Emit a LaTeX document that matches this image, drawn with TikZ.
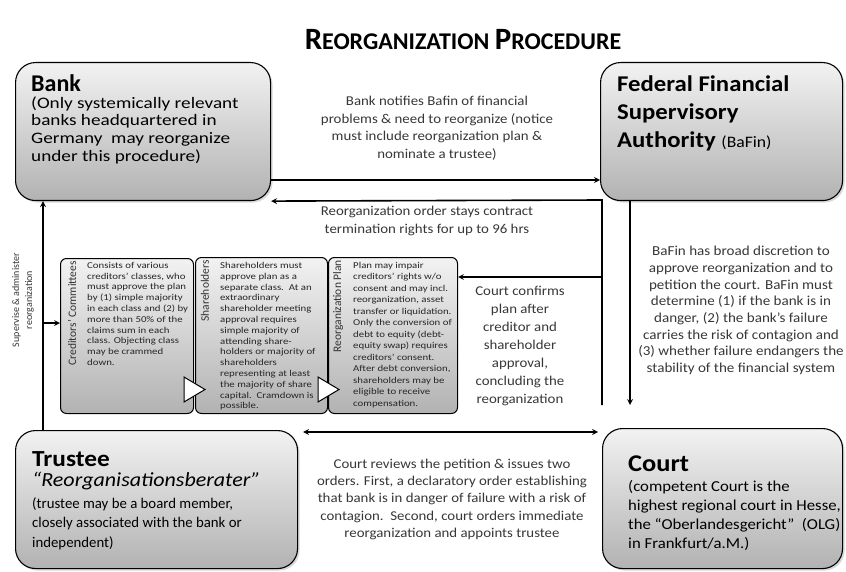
\documentclass[tikz,border=0pt]{standalone}
\usepackage{fontspec}
\setmainfont{Carlito}
\newfontfamily\cfwide{Carlito}[FakeStretch=1.1,Ligatures=TeX]
\newfontfamily\cfwider{Carlito}[FakeStretch=1.2,Ligatures=TeX]
\usetikzlibrary{shadows}
\definecolor{boxtop}{RGB}{242,242,242}
\definecolor{boxbot}{RGB}{178,178,178}
\definecolor{labgray}{RGB}{55,55,55}
\begin{document}
\begin{tikzpicture}[x=1pt,y=-1pt,>=stealth,
	bigbox/.style={draw,line width=1.1pt,rounded corners=20pt,top color=boxtop,bottom color=boxbot,
		drop shadow={opacity=0.3,shadow xshift=2pt,shadow yshift=-2pt},inner sep=0pt,anchor=north west},
	smallbox/.style={draw,line width=1pt,rounded corners=6pt,top color=boxtop,bottom color=boxbot,
		inner sep=0pt,anchor=north west},
	boxtext/.style={anchor=north west,align=left,inner sep=0pt},
	sidetext/.style={anchor=north,align=center,inner sep=0pt,text=labgray,font=\cfwide\fontsize{13.5}{17.5}\selectfont},
	striptitle/.style={rotate=90,anchor=east,inner sep=0pt,text=black!80,font=\fontsize{11.5}{13}\selectfont},
	smalltext/.style={anchor=north west,align=left,inner sep=0pt,text=black!85,font=\cfwider\fontsize{9}{10.8}\selectfont},
	conn/.style={->,line width=1.6pt},
	tri/.style={draw,line width=1pt,fill=white,line join=miter}]
	\useasboundingbox (0,0) rectangle (846,572);
	%Tieu de
	\node[inner sep=0pt,font=\bfseries] (title) at (463,40)
		{\fontsize{31}{34}\selectfont R\fontsize{24}{27}\selectfont EORGANIZATION
		 \fontsize{31}{34}\selectfont P\fontsize{24}{27}\selectfont ROCEDURE};
	%Khung Bank
	\node[bigbox,minimum width=255pt,minimum height=138pt] (bank) at (15,62) {};
	\node[boxtext,font=\cfwider\fontsize{16}{17.7}\selectfont] (banktxt) at (31,74)
		{{\setmainfont{Carlito}\fontsize{24}{24}\selectfont\bfseries Bank}\\[-0.5pt]
		 (Only systemically relevant\\
		 banks headquartered in\\
		 Germany\ \ may reorganize\\
		 under this procedure)};
	%Khung BaFin
	\node[bigbox,minimum width=242pt,minimum height=138pt] (bafin) at (600,62) {};
	\node[boxtext,font=\cfwide\fontsize{22.5}{28}\selectfont\bfseries] (bafintxt) at (617,76)
		{Federal Financial\\
		 Supervisory\\
		 Authority {\mdseries\fontsize{16}{17}\selectfont (BaFin)}};
	%Khung Trustee
	\node[bigbox,minimum width=282pt,minimum height=138pt] (trustee) at (15,430) {};
	\node[boxtext,font=\fontsize{14.8}{19.5}\selectfont] (trusteetxt) at (32,451)
		{{\cfwide\fontsize{23}{23}\selectfont\bfseries Trustee}\\[0.5pt]
		 {\cfwide\fontsize{20}{20}\selectfont\itshape ``Reorganisationsberater''}\\[2.5pt]
		 (trustee may be a board member,\\
		 closely associated with the bank or\\
		 independent)};
	%Khung Court
	\node[bigbox,minimum width=240pt,minimum height=140pt] (court) at (602,428) {};
	\node[boxtext,font=\cfwide\fontsize{15.2}{19}\selectfont] (courttxt) at (628,456)
		{{\fontsize{24}{24}\selectfont\bfseries Court}\\[1pt]
		 (competent Court is the\\
		 highest regional court in Hesse,\\
		 the ``Oberlandesgericht''\ \ (OLG)\\
		 in Frankfurt/a.M.)};
	%Khung nho 1
	\node[smallbox,minimum width=133pt,minimum height=155pt] (cred) at (60,258) {};
	\node[striptitle] (credtitle) at (72,261) {Creditors' Committees};
	\node[smalltext] (credtxt) at (87,262)
		{Consists of various\\
		 creditors' classes, who\\
		 must approve the plan\\
		 by (1) simple majority\\
		 in each class and (2) by\\
		 more than 50\% of the\\
		 claims sum in each\\
		 class. Objecting class\\
		 may be crammed\\
		 down.};
	%Khung nho 2
	\node[smallbox,minimum width=132pt,minimum height=156pt] (share) at (195,257) {};
	\node[striptitle] (sharetitle) at (205,260) {Shareholders};
	\node[smalltext] (sharetxt) at (220,262)
		{Shareholders must\\
		 approve plan as a\\
		 separate class.\ \ At an\\
		 extraordinary\\
		 shareholder meeting\\
		 approval requires\\
		 simple majority of\\
		 attending share-\\
		 holders or majority of\\
		 shareholders\\
		 representing at least\\
		 the majority of share\\
		 capital.\ \ Cramdown is\\
		 possible.};
	%Khung nho 3
	\node[smallbox,minimum width=129pt,minimum height=156pt] (plan) at (328,257) {};
	\node[striptitle] (plantitle) at (338,260) {Reorganization Plan};
	\node[smalltext,font=\cfwider\fontsize{9}{11.5}\selectfont] (plantxt) at (353,262)
		{Plan may impair\\
		 creditors' rights w/o\\
		 consent and may incl.\\
		 reorganization, asset\\
		 transfer or liquidation.\\
		 Only the conversion of\\
		 debt to equity (debt-\\
		 equity swap) requires\\
		 creditors' consent.\\
		 After debt conversion,\\
		 shareholders may be\\
		 eligible to receive\\
		 compensation.};
	%Tam giac
	\draw[tri] (184,377) -- (205,389.5) -- (184,402) -- cycle;
	\draw[tri] (318,377) -- (339,389.5) -- (318,402) -- cycle;
	%Mui ten 1
	\coordinate (n1) at (0,180);
	\draw[conn] (bank.east |- n1) -- (bafin.west |- n1);
	\node[sidetext] (notify) at (437,96)
		{Bank notifies Bafin of financial\\
		 problems \& need to reorganize (notice\\
		 must include reorganization plan \&\\
		 nominate a trustee)};
	%Mui ten 2,3
	\coordinate (cbot) at (602,405);
	\coordinate (ctop) at (602,200);
	\coordinate (cmid) at (602,277);
	\draw[conn,line join=miter] (cbot) -- (ctop) -- (bank.south east);
	\draw[conn] (cmid) -- (plan.east |- cmid);
	\node[sidetext] (stays) at (427,206)
		{Reorganization order stays contract\\
		 termination rights for up to 96 hrs};
	\node[sidetext,font=\cfwide\fontsize{13.5}{18}\selectfont] (confirm) at (520,286)
		{Court confirms\\
		 plan after\\
		 creditor and\\
		 shareholder\\
		 approval,\\
		 concluding the\\
		 reorganization};
	%Mui ten 4
	\coordinate (bdown) at (630,405);
	\draw[conn] (bafin.south -| bdown) -- (bdown);
	\node[sidetext,font=\cfwide\fontsize{13.7}{16.7}\selectfont] (discretion) at (741,246)
		{BaFin has broad discretion to\\
		 approve reorganization and to\\
		 petition the court. BaFin must\\
		 determine (1) if the bank is in\\
		 danger, (2) the bank's failure\\
		 carries the risk of contagion and\\
		 (3) whether failure endangers the\\
		 stability of the financial system};
	%Mui ten 5
	\draw[conn,<->] ([xshift=5pt,yshift=-2pt]trustee.north east) -- ([xshift=-4pt,yshift=-4pt]court.north west);
	\node[sidetext,font=\cfwide\fontsize{13.5}{17.2}\selectfont] (review) at (452,459)
		{Court reviews the petition \& issues two\\
		 orders. First, a declaratory order establishing\\
		 that bank is in danger of failure with a risk of\\
		 contagion.\ \ Second, court orders immediate\\
		 reorganization and appoints trustee};
	%Mui ten 6,7
	\coordinate (sv) at (43,0);
	\coordinate (sb) at (43,323);
	\draw[conn] (trustee.north -| sv) -- (bank.south -| sv);
	\draw[conn] (sb) -- (cred.west |- sb);
	\node[rotate=90,align=center,inner sep=0pt,text=labgray,font=\fontsize{10}{13}\selectfont] (supervise) at (23,300)
		{Supervise \& administer\\reorganization};
\end{tikzpicture}
\end{document}
